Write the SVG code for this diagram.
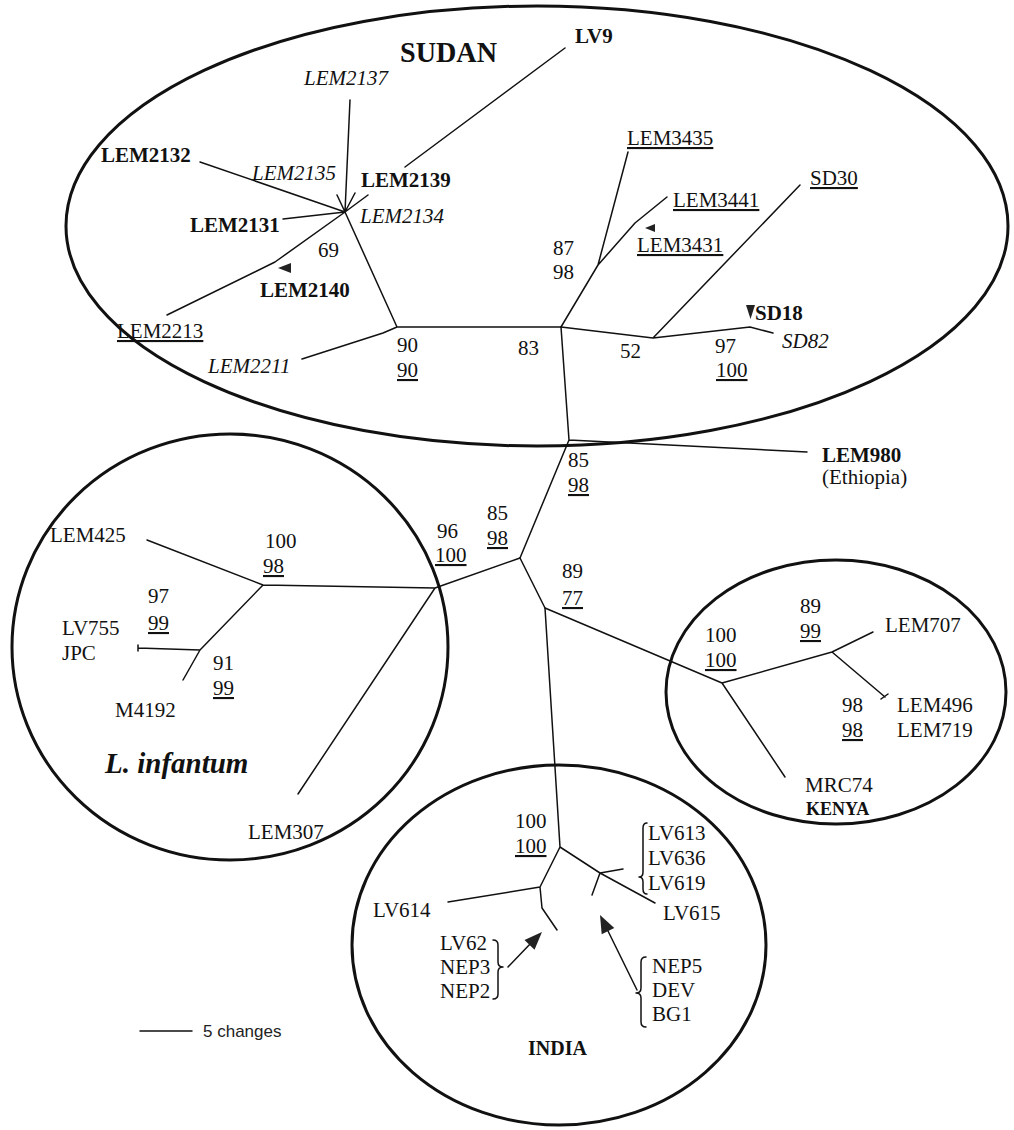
<svg xmlns="http://www.w3.org/2000/svg" width="1014" height="1130" viewBox="0 0 1014 1130">
<style>
.t{font-family:"Liberation Serif","Times New Roman",serif;font-size:21px;fill:#111}
.b{font-weight:bold}
.i{font-style:italic}
.u{text-decoration:underline}
.s{font-family:"Liberation Sans",Arial,sans-serif;font-size:17px;fill:#222}
.br{fill:none;stroke:#111;stroke-width:1.5;stroke-linejoin:round;stroke-linecap:round}
.grp{fill:none;stroke:#111;stroke-width:3}
.ah{fill:#222}
</style>
<rect width="1014" height="1130" fill="#fff"/>
<g id="group-outlines">
<ellipse id="sudan-outline" class="grp" cx="537" cy="226" rx="471" ry="220"/>
<ellipse id="infantum-outline" class="grp" cx="230" cy="647" rx="218" ry="213"/>
<ellipse id="kenya-outline" class="grp" cx="836" cy="692" rx="170" ry="132"/>
<ellipse id="india-outline" class="grp" cx="559" cy="945" rx="207" ry="180"/>
</g>
<g id="connectors">
<path class="br" d="M350,100 L345,212 M200,162 L345,212 M283,219 L345,212 M337,195 L345,212 M355,193 L345,212 M368,195 L345,212 M565,48 L405,167"/>
<path class="br" d="M345,212 L275,262 L167,315 M345,212 L397,327 M397,327 L383,333 L302,359 M397,327 L561,327"/>
<path class="br" d="M561,327 L598,265 L635,223 L667,197 M598,265 L628,152"/>
<path class="br" d="M561,327 L653,338 L800,185 M653,338 L750,327 L773,333"/>
<path class="br" d="M561,327 L569,440 L807,452 M569,440 L520,558"/>
<path class="br" d="M520,558 L435,588 L263,585 L147,540 M263,585 L200,650 L138,648 M138,645 L138,651 M200,650 L183,680 M435,588 L298,794"/>
<path class="br" d="M520,558 L545,608 L722,683 L832,652 L873,632 M832,652 L885,697 M881,699 L888,694 M722,683 L785,777"/>
<path class="br" d="M545,608 L560,847 L540,887 L448,902 M540,887 L542,908 L557,930 M560,847 L600,873 L655,903 M600,873 L623,869 M600,873 L592,895"/>
<path class="br" d="M647,823 Q643,823 643,828 L643,872 Q643,877 639,877 Q643,877 643,882 L643,889 Q643,894 647,894"/>
<path class="br" d="M493,940 Q498,940 498,945 L498,962 Q498,967 503,967 Q498,967 498,972 L498,994 Q498,999 493,999"/>
<path class="br" d="M646,957 Q641,957 641,962 L641,988 Q641,993 636,993 Q641,993 641,998 L641,1022 Q641,1027 646,1027"/>
<path class="br" d="M508,967 L531,943 M637,990 L608,931"/>
<polygon class="ah" points="542,932 534.5,949.8 524.5,940"/>
<polygon class="ah" points="600,915 614.3,928 601.7,934.2"/>
<polygon class="ah" points="278,268 291,263 291,273"/>
<polygon class="ah" points="645,228 655,224 655,232"/>
<polygon class="ah" points="746,305 755,305 750.5,319"/>
<path class="br" d="M140,1031 L192,1031"/>
</g>
<g id="sudan">
<text class="t b" x="400" y="62" textLength="97" lengthAdjust="spacingAndGlyphs" style="font-size:29px">SUDAN</text>
<text class="t b" x="575" y="43">LV9</text>
<text class="t i" x="304" y="85">LEM2137</text>
<text class="t b" x="101" y="162">LEM2132</text>
<text class="t i" x="252" y="180">LEM2135</text>
<text class="t b" x="361" y="187">LEM2139</text>
<text class="t b" x="190" y="232">LEM2131</text>
<text class="t i" x="360" y="223">LEM2134</text>
<text class="t" x="318" y="257">69</text>
<text class="t b" x="260" y="297">LEM2140</text>
<text class="t u" x="117" y="338">LEM2213</text>
<text class="t i" x="208" y="373">LEM2211</text>
<text class="t" x="397" y="352">90</text>
<text class="t u" x="397" y="377">90</text>
<text class="t" x="518" y="355">83</text>
<text class="t" x="553" y="255">87</text>
<text class="t" x="553" y="279">98</text>
<text class="t u" x="627" y="145">LEM3435</text>
<text class="t u" x="673" y="207">LEM3441</text>
<text class="t u" x="637" y="252">LEM3431</text>
<text class="t u" x="810" y="185">SD30</text>
<text class="t b" x="755" y="320">SD18</text>
<text class="t i" x="782" y="348">SD82</text>
<text class="t" x="620" y="358">52</text>
<text class="t" x="715" y="353">97</text>
<text class="t u" x="716" y="377">100</text>
</g>
<g id="ethiopia">
<text class="t b" x="822" y="462">LEM980</text>
<text class="t" x="822" y="484">(Ethiopia)</text>
<text class="t" x="568" y="467">85</text>
<text class="t u" x="568" y="492">98</text>
<text class="t" x="487" y="520">85</text>
<text class="t u" x="487" y="545">98</text>
<text class="t" x="437" y="538">96</text>
<text class="t u" x="435" y="562">100</text>
<text class="t" x="562" y="578">89</text>
<text class="t u" x="562" y="605">77</text>
</g>
<g id="infantum">
<text class="t" x="50" y="542">LEM425</text>
<text class="t" x="265" y="548">100</text>
<text class="t u" x="263" y="573">98</text>
<text class="t" x="148" y="603">97</text>
<text class="t u" x="148" y="630">99</text>
<text class="t" x="62" y="635">LV755</text>
<text class="t" x="62" y="660">JPC</text>
<text class="t" x="213" y="670">91</text>
<text class="t u" x="213" y="695">99</text>
<text class="t" x="115" y="717">M4192</text>
<text class="t b i" x="105" y="773" style="font-size:29px">L. infantum</text>
<text class="t" x="248" y="839">LEM307</text>
</g>
<g id="kenya">
<text class="t" x="705" y="642">100</text>
<text class="t u" x="705" y="667">100</text>
<text class="t" x="800" y="613">89</text>
<text class="t u" x="800" y="638">99</text>
<text class="t" x="885" y="632">LEM707</text>
<text class="t" x="842" y="712">98</text>
<text class="t u" x="842" y="737">98</text>
<text class="t" x="897" y="712">LEM496</text>
<text class="t" x="897" y="737">LEM719</text>
<text class="t" x="805" y="792">MRC74</text>
<text class="t b" x="806" y="815" style="font-size:18px">KENYA</text>
</g>
<g id="india">
<text class="t" x="515" y="828">100</text>
<text class="t u" x="515" y="853">100</text>
<text class="t" x="648" y="840">LV613</text>
<text class="t" x="648" y="865">LV636</text>
<text class="t" x="648" y="890">LV619</text>
<text class="t" x="663" y="920">LV615</text>
<text class="t" x="373" y="917">LV614</text>
<text class="t" x="440" y="950">LV62</text>
<text class="t" x="440" y="974">NEP3</text>
<text class="t" x="440" y="998">NEP2</text>
<text class="t" x="652" y="973">NEP5</text>
<text class="t" x="652" y="997">DEV</text>
<text class="t" x="652" y="1021">BG1</text>
<text class="t b" x="528" y="1055" style="font-size:20px">INDIA</text>
</g>
<g id="legend">
<text class="s" x="203" y="1037">5 changes</text>
</g>
</svg>
